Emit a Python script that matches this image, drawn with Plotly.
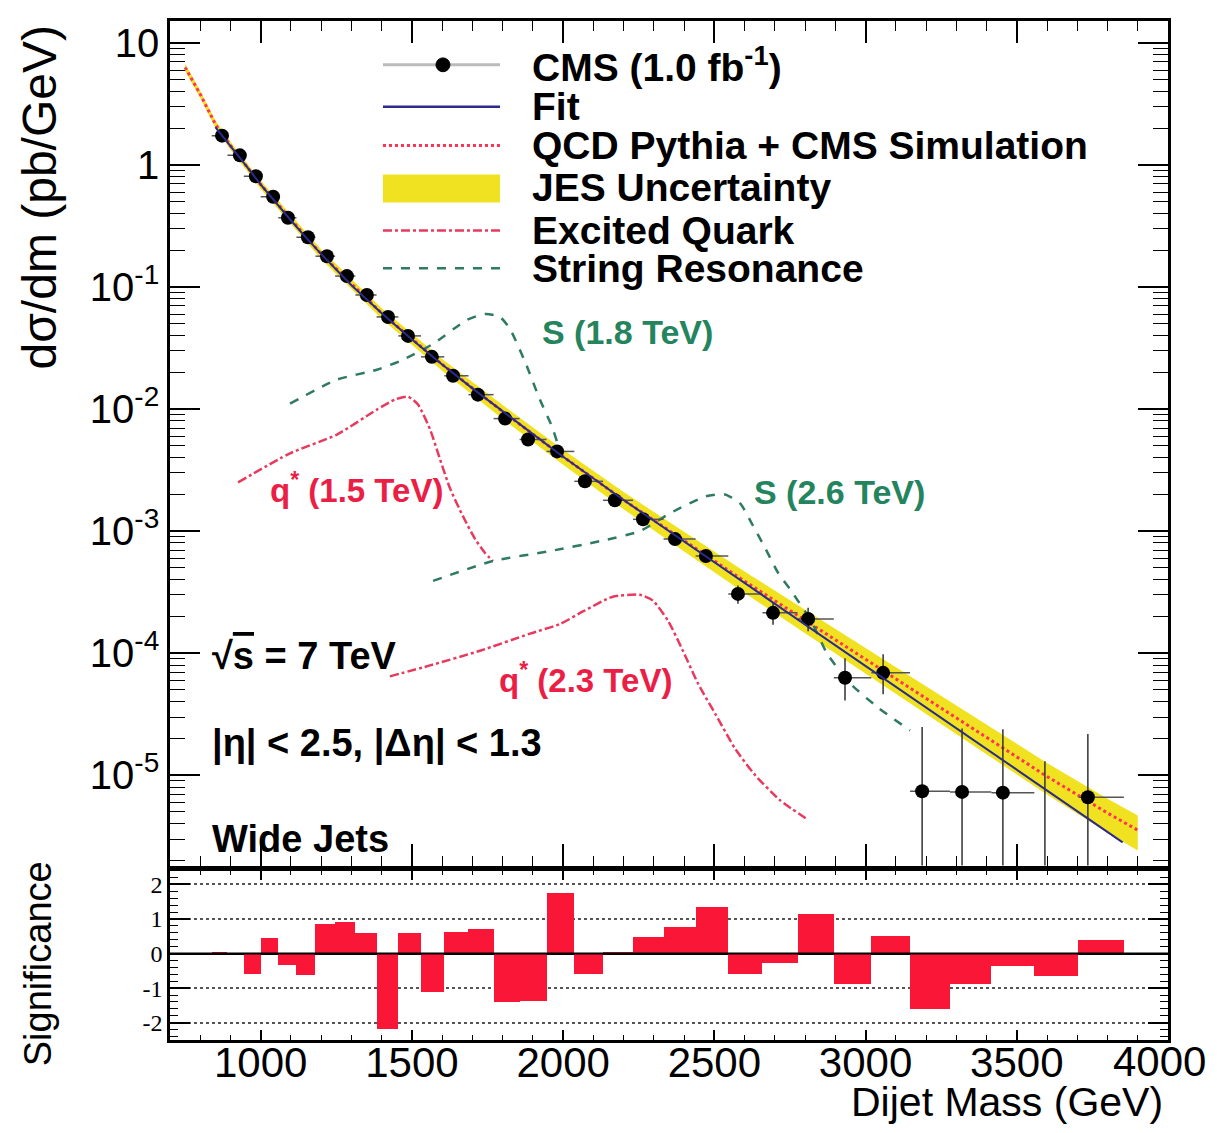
import plotly.graph_objects as go

# ---------------- values ----------------
bin_edges = [838, 890, 944, 1000, 1058, 1118, 1181, 1246, 1313, 1383, 1455, 1530, 1607, 1687,
             1770, 1856, 1945, 2037, 2132, 2231, 2332, 2438, 2546, 2659, 2775, 2895, 3019,
             3147, 3279, 3416, 3558, 3704, 3854, 4010]

data_bin_index = list(range(30)) + [31]
data_mass = [872, 931, 984, 1041, 1090, 1156, 1219, 1285, 1351, 1421, 1487, 1566, 1636, 1718,
             1808, 1884, 1980, 2072, 2171, 2264, 2370, 2472, 2578, 2694, 2810, 2932, 3058,
             3187, 3319, 3454, 3735]
data_xsec = [1.74, 1.20, 0.81, 0.55, 0.37, 0.256, 0.179, 0.123, 0.0861, 0.0569, 0.0398, 0.0268,
             0.01875, 0.01313, 0.00836, 0.00564, 0.00450, 0.00256, 0.00179, 0.00125, 8.61e-4,
             6.25e-4, 3.06e-4, 2.14e-4, 1.91e-4, 6.3e-5, 6.9e-5, 7.4e-6, 7.3e-6, 7.2e-6, 6.6e-6]
data_err_up = [5.8e-3, 4.7e-3, 3.8e-3, 3.1e-3, 2.5e-3, 2.0e-3, 1.66e-3, 1.35e-3, 1.1e-3, 8.9e-4,
               7.3e-4, 5.9e-4, 4.9e-4, 4.0e-4, 3.1e-4, 2.5e-4, 2.2e-4, 1.6e-4, 1.35e-4, 1.1e-4,
               9.0e-5, 7.6e-5, 5.2e-5, 4.3e-5, 4.5e-5, 2.8e-5, 2.9e-5, 1.74e-5, 1.68e-5, 1.66e-5,
               1.52e-5]
data_err_down = [5.8e-3, 4.7e-3, 3.8e-3, 3.1e-3, 2.5e-3, 2.0e-3, 1.66e-3, 1.35e-3, 1.1e-3, 8.9e-4,
                 7.3e-4, 5.9e-4, 4.9e-4, 4.0e-4, 3.1e-4, 2.5e-4, 2.2e-4, 1.6e-4, 1.35e-4, 1.1e-4,
                 9.0e-5, 7.6e-5, 5.2e-5, 4.3e-5, 4.0e-5, 2.2e-5, 2.3e-5, 6.1e-6, 6.0e-6, 6.0e-6,
                 5.5e-6]
empty_bin_mass = [3593]
empty_bin_upper = [1.3e-5]

significance = [0.07, 0.0, -0.57, 0.46, -0.31, -0.60, 0.88, 0.93, 0.62, -2.17, 0.62, -1.10,
                0.65, 0.73, -1.40, -1.36, 1.76, -0.57, 0.07, 0.48, 0.77, 1.35, -0.58, -0.27,
                1.15, -0.87, 0.51, -1.60, -0.88, -0.34, -0.65, 0.41, 0.0]

fit_mass = [850, 900, 950, 1000, 1050, 1100, 1150, 1200, 1300, 1400, 1500, 1600, 1700, 1800,
            1900, 2000, 2100, 2200, 2300, 2400, 2500, 2600, 2700, 2800, 2900, 3000, 3100, 3200,
            3300, 3400, 3500, 3600, 3700, 3800, 3850]
fit_xsec = [2.042, 1.445, 1.0, 0.692, 0.490, 0.351, 0.254, 0.186, 0.1035, 0.0610, 0.0372, 0.0232,
            0.01479, 0.00955, 0.00624, 0.00407, 0.00269, 0.00180, 0.001216, 8.22e-4, 5.56e-4,
            3.76e-4, 2.54e-4, 1.718e-4, 1.161e-4, 7.85e-5, 5.31e-5, 3.59e-5, 2.43e-5, 1.64e-5,
            1.109e-5, 7.50e-6, 5.07e-6, 3.43e-6, 2.82e-6]

qcd_mass = [750, 800, 850, 900, 1000, 1200, 1400, 1600, 1800, 2000, 2200, 2400, 2600, 2800,
            3000, 3200, 3400, 3600, 3800, 3900]
qcd_xsec = [6.31, 3.80, 2.163, 1.445, 0.692, 0.186, 0.0610, 0.0232, 0.00955, 0.00407, 0.00180,
            8.32e-4, 3.89e-4, 1.862e-4, 8.91e-5, 4.27e-5, 2.04e-5, 9.77e-6, 4.90e-6, 3.55e-6]
jes_unc = [0.07, 0.07, 0.07, 0.075, 0.08, 0.09, 0.10, 0.11, 0.13, 0.14, 0.16, 0.18, 0.20, 0.22,
           0.24, 0.26, 0.27, 0.29, 0.31, 0.32]

q15_mass = [925, 1097, 1252, 1384, 1444, 1487, 1520, 1560, 1593, 1626, 1669, 1709, 1742, 1768]
q15_xsec = [2.51e-3, 4.34e-3, 6.19e-3, 9.91e-3, 1.197e-2, 1.265e-2, 1.089e-2, 6.81e-3, 3.87e-3,
            2.24e-3, 1.32e-3, 8.61e-4, 6.61e-4, 5.69e-4]

q23_mass = [1427, 1560, 1725, 1890, 1990, 2069, 2162, 2254, 2297, 2347, 2396, 2446, 2506, 2568,
            2635, 2717, 2810]
q23_xsec = [6.46e-5, 7.94e-5, 1.047e-4, 1.445e-4, 1.738e-4, 2.22e-4, 2.89e-4, 3.01e-4, 2.69e-4,
            1.84e-4, 1.047e-4, 5.64e-5, 3.09e-5, 1.66e-5, 1.0e-5, 6.25e-6, 4.30e-6]

s18_mass = [1097, 1252, 1384, 1470, 1570, 1682, 1742, 1791, 1824, 1874, 1923, 1963, 1990, 2009]
s18_xsec = [0.01109, 0.01742, 0.02101, 0.02535, 0.03426, 0.05383, 0.06026, 0.05692, 0.04540,
            0.02443, 0.01197, 0.00720, 0.00450, 0.00340]

s26_mass = [1570, 1768, 1957, 2122, 2254, 2353, 2472, 2535, 2585, 2625, 2668, 2711, 2754, 2820,
            2873, 2949, 3041, 3147]
s26_xsec = [3.91e-4, 5.69e-4, 6.87e-4, 8.28e-4, 1.0e-3, 1.40e-3, 1.93e-3, 2.00e-3, 1.69e-3,
            1.14e-3, 7.26e-4, 4.54e-4, 3.24e-4, 1.84e-4, 9.9e-5, 5.64e-5, 3.59e-5, 2.33e-5]

y_tick_vals = [1e-5, 1e-4, 1e-3, 1e-2, 1e-1, 1, 10]
y_tick_text = ["10<sup>-5</sup>", "10<sup>-4</sup>", "10<sup>-3</sup>", "10<sup>-2</sup>",
               "10<sup>-1</sup>", "1", "10"]
x_tick_vals = [1000, 1500, 2000, 2500, 3000, 3500, 4000]
x_tick_text = ["1000", "1500", "2000", "2500", "3000", "3500", ""]
x_last_label = "4000"   # drawn right-aligned at the figure edge so it is not clipped
sig_tick_vals = [-2, -1, 0, 1, 2]

# ---------------- styles ----------------
FONT = "Liberation Sans, Arial, Helvetica, sans-serif"
RED_BAR = "rgb(250,22,55)"
YELLOW = "rgb(240,226,32)"
FIT_C = "#2b2b8c"
QCD_C = "#ff3355"
QSTAR_C = "#e83a5e"
STRING_C = "#2e7a62"
LABEL_GREEN = "#24845e"
LABEL_RED = "#eb1e46"

# derived quantities from the data arrays
xerr_minus = [m - bin_edges[i] for m, i in zip(data_mass, data_bin_index)]
xerr_plus = [bin_edges[i + 1] - m for m, i in zip(data_mass, data_bin_index)]
bin_centers = [(a + b) / 2 for a, b in zip(bin_edges[:-1], bin_edges[1:])]
bin_widths = [b - a for a, b in zip(bin_edges[:-1], bin_edges[1:])]
jes_hi = [v * (1 + u) for v, u in zip(qcd_xsec, jes_unc)]
jes_lo = [v * (1 - u) for v, u in zip(qcd_xsec, jes_unc)]

fig = go.Figure()

# JES band
fig.add_trace(go.Scatter(x=qcd_mass + qcd_mass[::-1], y=jes_hi + jes_lo[::-1], fill="toself",
                         fillcolor=YELLOW, line=dict(width=0), mode="lines",
                         hoverinfo="skip", showlegend=False, xaxis="x", yaxis="y"))
# QCD Pythia
fig.add_trace(go.Scatter(x=qcd_mass, y=qcd_xsec, mode="lines",
                         line=dict(color=QCD_C, width=3, dash="dot"),
                         showlegend=False, xaxis="x", yaxis="y"))
# signal shapes
fig.add_trace(go.Scatter(x=q15_mass, y=q15_xsec, mode="lines",
                         line=dict(color=QSTAR_C, width=2.5, dash="dashdot", shape="spline", smoothing=0.6),
                         showlegend=False, xaxis="x", yaxis="y"))
fig.add_trace(go.Scatter(x=q23_mass, y=q23_xsec, mode="lines",
                         line=dict(color=QSTAR_C, width=2.5, dash="dashdot", shape="spline", smoothing=0.6),
                         showlegend=False, xaxis="x", yaxis="y"))
fig.add_trace(go.Scatter(x=s18_mass, y=s18_xsec, mode="lines",
                         line=dict(color=STRING_C, width=2.5, dash="dash", shape="spline", smoothing=0.6),
                         showlegend=False, xaxis="x", yaxis="y"))
fig.add_trace(go.Scatter(x=s26_mass, y=s26_xsec, mode="lines",
                         line=dict(color=STRING_C, width=2.5, dash="dash", shape="spline", smoothing=0.6),
                         showlegend=False, xaxis="x", yaxis="y"))
# empty bin: upper error only
fig.add_trace(go.Scatter(x=empty_bin_mass, y=empty_bin_upper, mode="markers",
                         marker=dict(size=1, color="rgba(0,0,0,0)"),
                         error_y=dict(type="data", symmetric=False, array=[0],
                                      arrayminus=[u * 0.9999 for u in empty_bin_upper],
                                      color="#333", thickness=1.5, width=0),
                         showlegend=False, xaxis="x", yaxis="y"))
# data
fig.add_trace(go.Scatter(x=data_mass, y=data_xsec, mode="markers",
                         marker=dict(size=14, color="black"),
                         error_y=dict(type="data", symmetric=False, array=data_err_up,
                                      arrayminus=data_err_down, color="#333", thickness=1.5, width=0),
                         error_x=dict(type="data", symmetric=False, array=xerr_plus,
                                      arrayminus=xerr_minus, color="#555", thickness=1.5, width=0),
                         showlegend=False, xaxis="x", yaxis="y"))
# fit
fig.add_trace(go.Scatter(x=fit_mass, y=fit_xsec, mode="lines",
                         line=dict(color=FIT_C, width=2),
                         showlegend=False, xaxis="x", yaxis="y"))
# significance
fig.add_trace(go.Bar(x=bin_centers, y=significance, width=bin_widths,
                     marker=dict(color=RED_BAR, line=dict(width=0)),
                     showlegend=False, xaxis="x2", yaxis="y2"))

axis_common = dict(showline=True, linecolor="black", linewidth=2.5, mirror="allticks",
                   ticks="inside", tickcolor="black", showgrid=False, zeroline=False)

fig.update_layout(
    width=1201, height=1117,
    margin=dict(l=162, r=41, t=10, b=85),
    paper_bgcolor="white", plot_bgcolor="white",
    font=dict(family=FONT, color="black"),
    showlegend=False,
    bargap=0,
    xaxis=dict(domain=[0, 1], anchor="y", range=[700, 4000], tickvals=x_tick_vals,
               ticklen=22, tickwidth=1.5, showticklabels=False,
               minor=dict(dtick=100, tick0=0, ticklen=10, ticks="inside", tickcolor="black", tickwidth=1),
               **axis_common),
    yaxis=dict(domain=[0.1712, 1], anchor="x", type="log", range=[-5.74, 1.18],
               tickvals=y_tick_vals, ticktext=y_tick_text, ticklen=30, tickwidth=1.5,
               tickfont=dict(size=40, family=FONT),
               minor=dict(tickvals=[k * 10 ** e for e in range(-6, 2) for k in range(2, 10)],
                          ticklen=15, ticks="inside", tickcolor="black", tickwidth=1),
               **axis_common),
    xaxis2=dict(domain=[0, 1], anchor="y2", range=[700, 4000], matches="x",
                tickvals=x_tick_vals, ticktext=x_tick_text,
                ticklen=10, tickwidth=1.5, tickfont=dict(size=42, family=FONT),
                ticklabelstandoff=-16,
                minor=dict(dtick=100, tick0=0, ticklen=5, ticks="inside", tickcolor="black", tickwidth=1),
                **axis_common),
    yaxis2=dict(domain=[0, 0.1663], anchor="x2", range=[-2.5, 2.4],
                tickvals=sig_tick_vals, ticktext=[str(v) for v in sig_tick_vals],
                ticklen=20, tickwidth=1.5, tickfont=dict(size=24, family="Liberation Serif, serif"),
                minor=dict(dtick=0.2, ticklen=8, ticks="inside", tickcolor="black", tickwidth=1),
                showline=True, linecolor="black", linewidth=2.5, mirror="allticks",
                ticks="inside", tickcolor="black",
                showgrid=True, gridcolor="#555", griddash="dot", gridwidth=1.5,
                zeroline=True, zerolinecolor="black", zerolinewidth=2),
)

# zero line above the bars
fig.add_shape(type="line", xref="x2 domain", yref="y2", x0=0, x1=1, y0=0, y1=0,
              line=dict(color="black", width=2), layer="above")

# ---------------- legend (drawn by hand) ----------------
lx0, lx1, ltx = 0.2134, 0.3307, 0.3607
rows = [0.957, 0.9159, 0.8777, 0.8366, 0.7945, 0.7573]
legend_text = ["CMS (1.0 fb<sup>-1</sup>)", "Fit", "QCD Pythia + CMS Simulation",
               "JES Uncertainty", "Excited Quark", "String Resonance"]
fig.add_shape(type="line", xref="paper", yref="paper", x0=lx0, x1=lx1, y0=rows[0], y1=rows[0],
              line=dict(color="#bbbbbb", width=3))
fig.add_shape(type="circle", xref="paper", yref="paper", x0=0.2735 - 0.007, x1=0.2735 + 0.007,
              y0=rows[0] - 0.0068, y1=rows[0] + 0.0068, fillcolor="black", line=dict(color="black", width=1))
fig.add_shape(type="line", xref="paper", yref="paper", x0=lx0, x1=lx1, y0=rows[1], y1=rows[1],
              line=dict(color=FIT_C, width=2.5))
fig.add_shape(type="line", xref="paper", yref="paper", x0=lx0, x1=lx1, y0=rows[2], y1=rows[2],
              line=dict(color=QCD_C, width=3, dash="dot"))
fig.add_shape(type="rect", xref="paper", yref="paper", x0=lx0, x1=lx1, y0=0.8219, y1=0.8493,
              fillcolor=YELLOW, line=dict(width=0))
fig.add_shape(type="line", xref="paper", yref="paper", x0=lx0, x1=lx1, y0=rows[4], y1=rows[4],
              line=dict(color=QSTAR_C, width=2.5, dash="dashdot"))
fig.add_shape(type="line", xref="paper", yref="paper", x0=lx0, x1=lx1, y0=rows[5], y1=rows[5],
              line=dict(color=STRING_C, width=2.5, dash="dash"))
for t, yy in zip(legend_text, rows):
    fig.add_annotation(text="<b>" + t + "</b>", xref="paper", yref="paper", x=ltx, y=yy,
                       xanchor="left", yanchor="middle", showarrow=False,
                       font=dict(size=39, family=FONT, color="black"))

# ---------------- labels ----------------
def note(text, x, y, size, color="black", xanchor="center", angle=0, bold=True):
    fig.add_annotation(text=("<b>" + text + "</b>") if bold else text, xref="paper", yref="paper",
                       x=x, y=y, xanchor=xanchor, yanchor="middle", showarrow=False,
                       textangle=angle, font=dict(size=size, family=FONT, color=color))

note("S (1.8 TeV)", 0.4589, 0.6947, 34, LABEL_GREEN)
note("S (2.6 TeV)", 0.6713, 0.5382, 34, LABEL_GREEN)
note("q<sup>*</sup> (1.5 TeV)", 0.1864, 0.5421, 33, LABEL_RED)
note("q<sup>*</sup> (2.3 TeV)", 0.4168, 0.3552, 33, LABEL_RED)
note("√<span style='text-decoration:overline'>s</span> = 7 TeV", 0.0401, 0.3767, 38, xanchor="left")
note("|η| &lt; 2.5, |Δη| &lt; 1.3", 0.0401, 0.2906, 38, xanchor="left")
note("Wide Jets", 0.0401, 0.1977, 38, xanchor="left")
note("dσ/dm (pb/GeV)", -0.1303, 0.8268, 48, angle=-90, bold=False)
note("Significance", -0.1323, 0.0753, 38, angle=-90, bold=False)
note("Dijet Mass (GeV)", 0.997, -0.0612, 41, xanchor="right", bold=False)
note(x_last_label, 1.0405, -0.0215, 42, xanchor="right", bold=False)

fig.write_html("out.html", config={"displayModeBar": False})
